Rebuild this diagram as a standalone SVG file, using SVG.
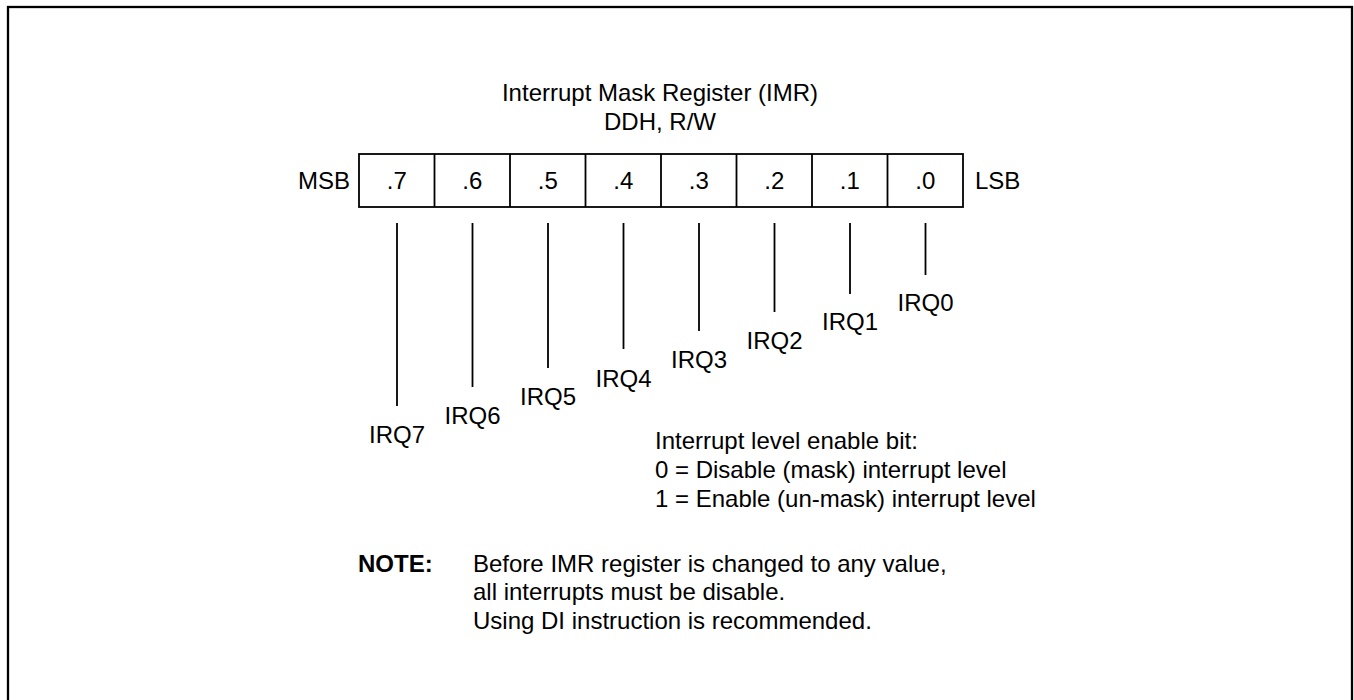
<svg xmlns="http://www.w3.org/2000/svg" width="1354" height="700" viewBox="0 0 1354 700">
<style>
text{font-family:"Liberation Sans",Arial,sans-serif;font-size:24px;fill:#000}
.c{text-anchor:middle}
.b{font-weight:bold}
.ln{stroke:#000;stroke-width:1.8;fill:none}
</style>
<rect x="0" y="0" width="1354" height="700" fill="#fff"/>
<rect x="8" y="7" width="1344" height="730" fill="none" stroke="#000" stroke-width="2.3"/>
<g id="title">
<text class="c" x="660" y="101">Interrupt Mask Register (IMR)</text>
<text class="c" x="660" y="130">DDH, R/W</text>
</g>
<g id="register">
<rect class="ln" x="359" y="154" width="604" height="53"/>
<path class="ln" d="M434.5 154V207M510 154V207M585.5 154V207M661 154V207M736.5 154V207M812 154V207M887.5 154V207"/>
<text x="298" y="189">MSB</text>
<text x="975" y="189">LSB</text>
<text class="c" x="396.75" y="189">.7</text>
<text class="c" x="472.25" y="189">.6</text>
<text class="c" x="547.75" y="189">.5</text>
<text class="c" x="623.25" y="189">.4</text>
<text class="c" x="698.75" y="189">.3</text>
<text class="c" x="774.25" y="189">.2</text>
<text class="c" x="849.75" y="189">.1</text>
<text class="c" x="925.25" y="189">.0</text>
</g>
<g id="connectors">
<path class="ln" d="M397 223V406M472.5 223V387M548 223V368M623.5 223V349M699 223V331M774.5 223V312M850 223V294M925.5 223V275"/>
</g>
<g id="irq">
<text class="c" x="397" y="443">IRQ7</text>
<text class="c" x="472.5" y="424">IRQ6</text>
<text class="c" x="548" y="405">IRQ5</text>
<text class="c" x="623.5" y="387">IRQ4</text>
<text class="c" x="699" y="368">IRQ3</text>
<text class="c" x="774.5" y="349">IRQ2</text>
<text class="c" x="850" y="330">IRQ1</text>
<text class="c" x="925.5" y="311">IRQ0</text>
</g>
<g id="legend">
<text x="655" y="449">Interrupt level enable bit:</text>
<text x="655" y="478">0 = Disable (mask) interrupt level</text>
<text x="655" y="507">1 = Enable (un-mask) interrupt level</text>
</g>
<g id="note">
<text class="b" x="358" y="572">NOTE:</text>
<text x="473" y="572">Before IMR register is changed to any value,</text>
<text x="473" y="600">all interrupts must be disable.</text>
<text x="473" y="629">Using DI instruction is recommended.</text>
</g>
</svg>
